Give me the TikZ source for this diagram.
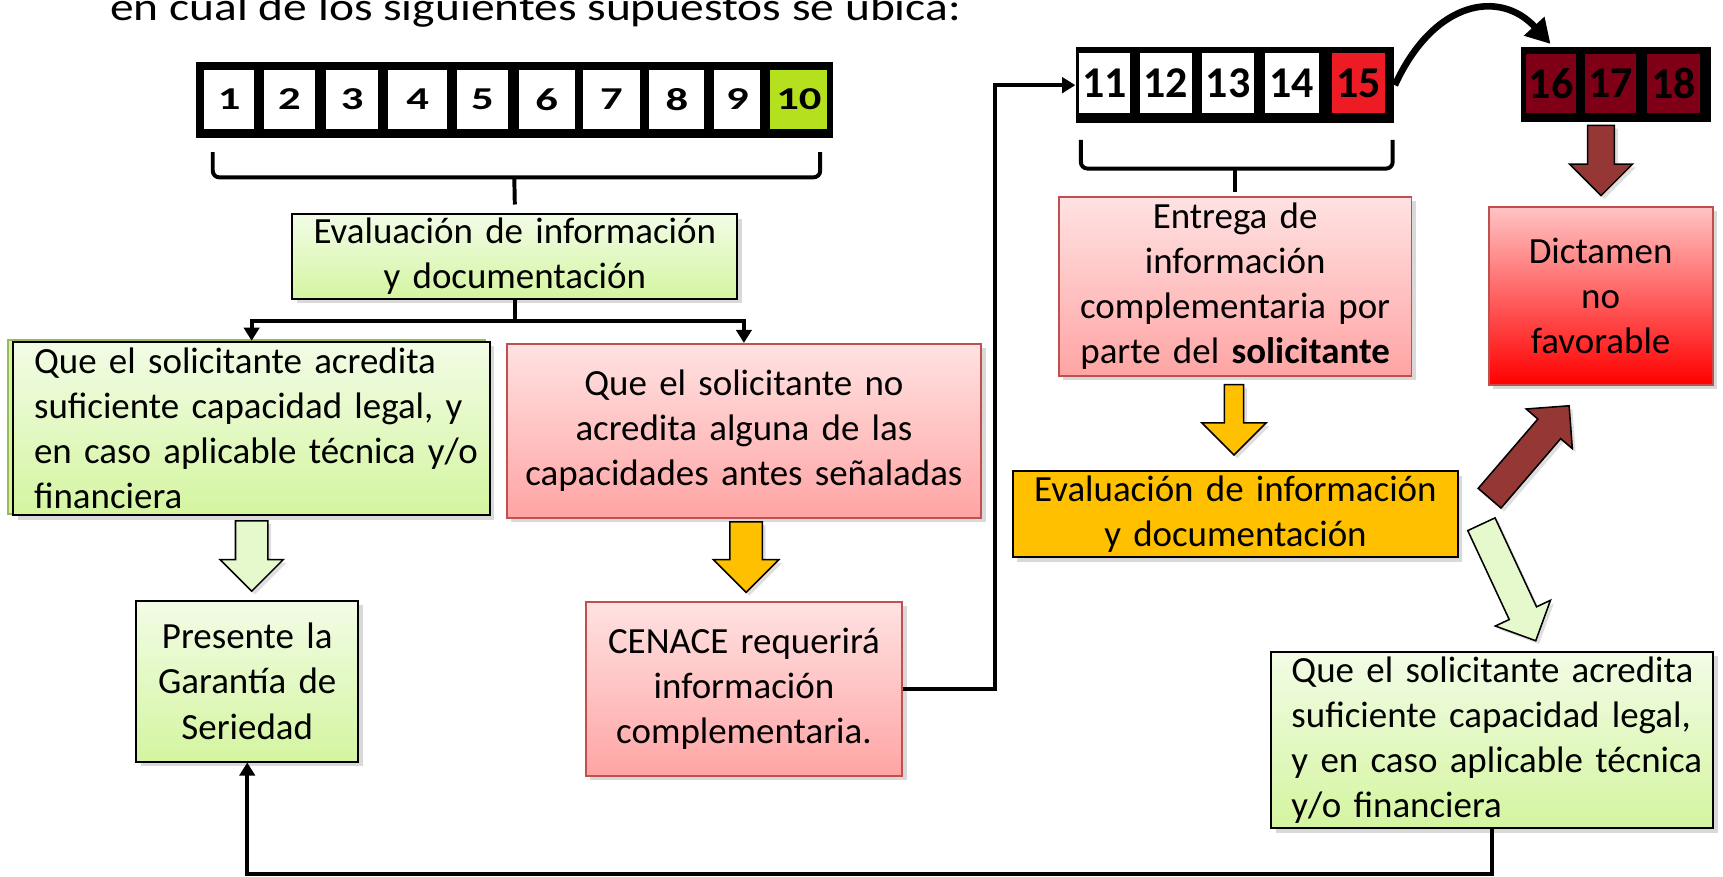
\documentclass[tikz,border=0pt]{standalone}
\usepackage{fontspec}
\setmainfont{Carlito}
\newfontfamily\headfont[FakeStretch=1.2]{Carlito}
\newfontfamily\numfont[FakeStretch=1.4]{Carlito}
\usepackage{xcolor}
\usepackage{tikz}
\usetikzlibrary{shapes.arrows, shadows, arrows.meta}

\definecolor{greentop}{HTML}{F2FCE6}
\definecolor{greenbot}{HTML}{D4F5A0}
\definecolor{greenline}{HTML}{9BBB59}
\definecolor{redtop}{HTML}{FFE2E2}
\definecolor{redbot}{HTML}{FFA4A4}
\definecolor{redline}{HTML}{C0504D}
\definecolor{amber}{HTML}{FFC000}
\definecolor{darkred}{HTML}{953735}
\definecolor{cellgreen}{HTML}{B4E01E}
\definecolor{cellred}{HTML}{ED1C24}
\definecolor{cellmaroon}{HTML}{7F0016}
\definecolor{dictop}{HTML}{FFC4C4}
\definecolor{arrowgreen}{HTML}{E6F9CC}

\begin{document}
\begin{tikzpicture}[x=0.5pt, y=-0.5pt,
  box/.style={draw, line width=0.9pt, inner xsep=4pt, inner ysep=0pt, align=center, font=\fontsize{16.8}{20.5}\selectfont, drop shadow={opacity=0.3, shadow xshift=2pt, shadow yshift=-2pt}},
  greenbox/.style={box, top color=greentop, bottom color=greenbot},
  redbox/.style={box, draw=redline, top color=redtop, bottom color=redbot},
  strip/.style={fill=black, inner sep=0pt},
  cell/.style={fill=white, inner sep=0pt, font=\numfont\fontsize{14.5}{14.5}\selectfont\bfseries},
  bigcell/.style={cell, font=\fontsize{20}{20}\selectfont\bfseries},
  blk/.style={single arrow, draw, line width=0.7pt, inner xsep=0pt, minimum width=0pt, minimum height=32pt, anchor=tip, drop shadow={opacity=0.25, shadow xshift=1.5pt, shadow yshift=-1.5pt}},
  conn/.style={line width=1.8pt, -{Triangle[length=6pt,width=7pt]}},
  brace/.style={line width=1.8pt, rounded corners=3pt},
  curve/.style={line width=3pt, -{Triangle[length=11pt,width=12pt]}}
]
\useasboundingbox (0,0) rectangle (1568,798);

\node[anchor=base west, inner sep=0pt, font=\headfont\fontsize{18}{20}\selectfont] (title) at (100,19) {en cual de los siguientes supuestos se ubica:};

% number strips
\node[strip, minimum width=290pt, minimum height=35pt] (strip1) at (468,91) {};
\foreach \n/\cx/\w in {1/208.5/22.5, 2/263.5/23.5, 3/320.5/23.5, 4/380/27, 5/439/23, 6/497.5/25.5, 7/556.5/25.5, 8/616/25, 9/671/21}
  \node[cell, minimum width=\w pt, minimum height=26.5pt] (c\n) at (\cx,90.5) {\n};
\node[cell, fill=cellgreen, minimum width=26pt, minimum height=26.5pt] (c10) at (727,90.5) {10};

\node[strip, minimum width=145pt, minimum height=34.5pt] (strip2) at (1124,77.5) {};
\foreach \n/\cx/\w in {11/1005/23, 12/1061/24, 13/1117.75/23.75, 14/1175.5/24.5}
  \node[bigcell, minimum width=\w pt, minimum height=27.2pt] (c\n) at (\cx,75.8) {\n};
\node[bigcell, fill=cellred, minimum width=23.7pt, minimum height=27.2pt] (c15) at (1236.3,75.8) {15};

\node[strip, minimum width=86.5pt, minimum height=34pt] (strip3) at (1470.5,77) {};
\foreach \n/\cx/\w in {16/1411.5/22.5, 17/1465.6/23.35, 18/1523/24}
  \node[bigcell, fill=cellmaroon, minimum width=\w pt, minimum height=26.75pt] (c\n) at (\cx,75.7) {\n};
\coordinate (tip3) at (1411,40);

% boxes
\node[greenbox, text width=194.5pt, minimum height=38.5pt] (eval1) at (468.5,233.5) {Evaluación de información\\y documentación};
\draw[draw=greenline, line width=0.9pt, fill=greenbot] (7.6,309) rectangle (441.5,468);
\node[greenbox, inner xsep=9.5pt, text width=198pt, minimum height=79pt, align=left] (lq) at (229,390) {\makebox[\hsize][s]{Que el solicitante acredita}\\\makebox[\hsize][s]{suficiente capacidad legal, y}\\\makebox[\hsize][s]{en caso aplicable técnica y/o}\\financiera};
\node[redbox, text width=208pt, minimum height=79pt] (rq) at (677,392) {Que el solicitante no\\acredita alguna de las\\capacidades antes señaladas};
\node[greenbox, text width=93pt, minimum height=73pt] (ga) at (225,620) {Presente la\\Garantía de\\Seriedad};
\node[redbox, text width=136pt, minimum height=79.25pt] (ce) at (677,627) {CENACE requerirá\\información\\complementaria.};
\node[redbox, text width=152.5pt, minimum height=81.5pt] (en) at (1124,260.5) {Entrega de\\información\\complementaria por\\parte del \textbf{solicitante}};
\node[box, fill=amber, text width=194.5pt, minimum height=39pt] (ev2) at (1124.3,468) {Evaluación de información\\y documentación};
\node[box, draw=redline, top color=dictop, bottom color=red, text width=94pt, minimum height=81pt] (di) at (1456.6,269) {Dictamen\\no\\favorable};
\node[greenbox, inner xsep=9.15pt, text width=182.7pt, minimum height=80.3pt, align=left] (rg) at (1358,673.3) {\makebox[\hsize][s]{Que el solicitante acredita}\\\makebox[\hsize][s]{suficiente capacidad legal,}\\\makebox[\hsize][s]{y en caso aplicable técnica}\\y/o financiera};

% braces
\draw[brace] ([xshift=8pt,yshift=-6pt]strip1.south west) -- ++(0,23) -| ([xshift=-6pt,yshift=-6pt]strip1.south east);
\draw[brace] ([yshift=-17pt]strip1.south) -- ([yshift=4pt]eval1.north);
\draw[brace] ([xshift=2.5pt,yshift=-7.5pt]strip2.south west) -- ++(0,26) -| ([xshift=-1pt,yshift=-7.5pt]strip2.south east);
\draw[brace] ([yshift=-20.5pt]strip2.south) -- ([yshift=1.5pt]en.north);

% block arrows
\node[blk, fill=arrowgreen, inner ysep=7pt, single arrow head extend=7pt, rotate=-90] (a1) at (229,539) {};
\node[blk, fill=amber, inner ysep=7pt, single arrow head extend=7.5pt, rotate=-90] (a2) at (679,540) {};
\node[blk, fill=amber, inner ysep=4pt, single arrow head extend=10.25pt, rotate=-90] (a3) at (1123,415) {};
\node[blk, fill=darkred, inner ysep=5.75pt, single arrow head extend=8.25pt, rotate=-90] (a4) at (1457,179) {};
\node[blk, fill=darkred, inner ysep=6.5pt, single arrow head extend=7pt, minimum height=55.5pt, rotate=49.3] (a5) at (1428.6,368.5) {};
\node[blk, fill=arrowgreen, inner ysep=6.5pt, single arrow head extend=7pt, minimum height=58.5pt, rotate=-65] (a6) at (1398,584) {};

% connectors
\draw[line width=1.8pt] (eval1.south) -- ++(0,19) coordinate (split);
\draw[conn] (split) -| (lq.north);
\draw[conn] (split) -| (rq.north);
\draw[conn] (ce.east) -- ++(84,0) |- (strip2.west);
\draw[curve] (strip2.east) .. controls (1305,0) and (1365,-10) .. (tip3);
\draw[conn] (rg.south) -- ++(0,41) -| (ga.south);
\end{tikzpicture}
\end{document}
